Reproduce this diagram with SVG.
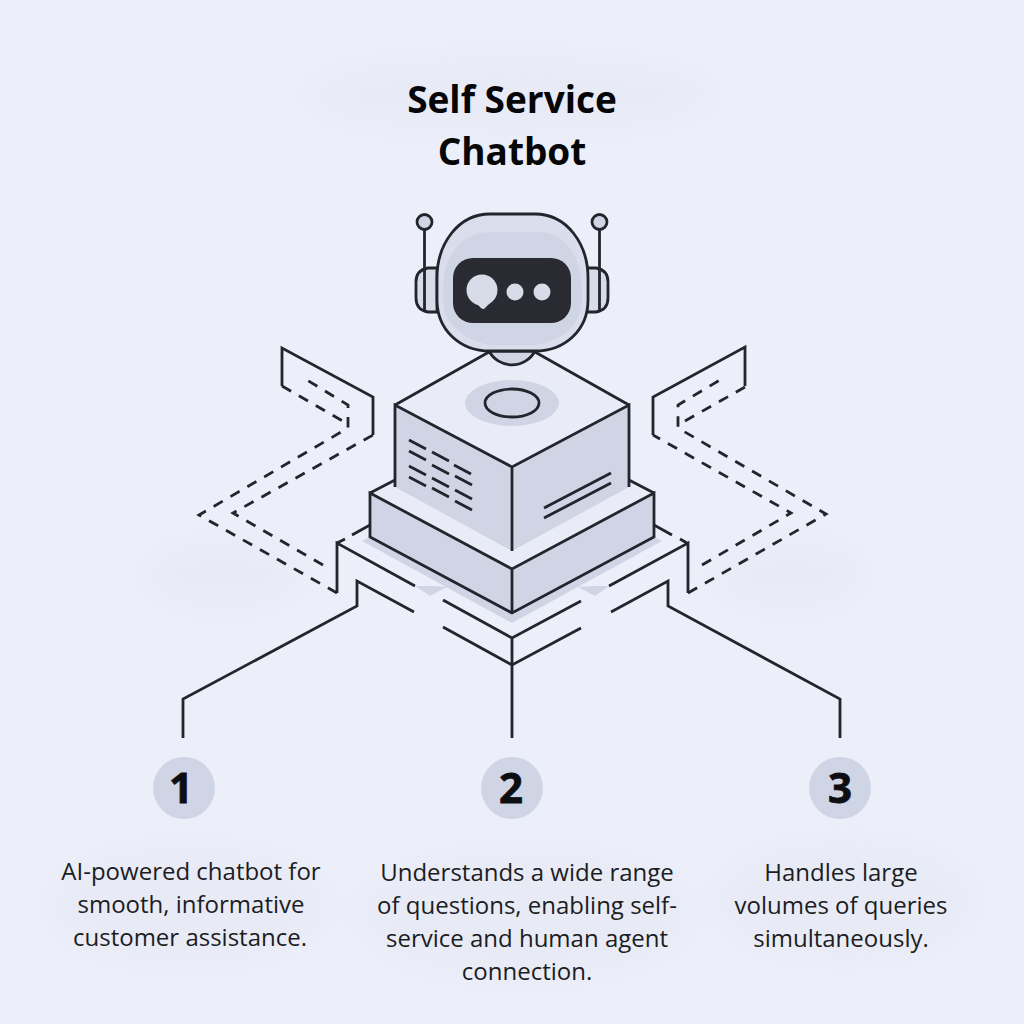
<svg xmlns="http://www.w3.org/2000/svg" width="1024" height="1024" viewBox="0 0 1024 1024">
<defs>
<filter id="blur" x="-30%" y="-30%" width="160%" height="160%"><feGaussianBlur stdDeviation="14"/></filter>
<style>
.ln{fill:none;stroke:#23252d;stroke-width:2.8;stroke-linejoin:miter;stroke-linecap:butt}
.da{stroke-dasharray:10.500 9}
.f{fill:#d0d5e5}
.t{fill:#e9ecf7}
.e{fill:#dadeec}
.b{fill:#e8ebf6}
.tx{font-family:"Open Sans","Noto Sans",sans-serif;font-size:24px;fill:#1c1d22;text-anchor:middle}
.ti{font-family:"Open Sans","Noto Sans",sans-serif;font-size:37px;font-weight:700;fill:#060608;text-anchor:middle}
.nu{font-family:"Open Sans","Noto Sans",sans-serif;font-size:42px;font-weight:700;fill:#0d0e12;stroke:#0d0e12;stroke-width:0.8;text-anchor:middle}
</style>
</defs>
<rect width="1024" height="1024" fill="#ecEff9"/>
<g filter="url(#blur)">
<ellipse class="b" cx="510" cy="95" rx="205" ry="40"/>
<ellipse class="b" cx="190" cy="905" rx="140" ry="60"/>
<ellipse class="b" cx="525" cy="915" rx="165" ry="65"/>
<ellipse class="b" cx="845" cy="900" rx="130" ry="60"/>
<ellipse class="b" cx="225" cy="575" rx="80" ry="35"/>
<ellipse class="b" cx="790" cy="575" rx="75" ry="35"/>
</g>
<g id="title"><text class="ti" x="512" y="113">Self Service</text><text class="ti" x="512" y="165">Chatbot</text></g>
<g id="connectors">
<path class="f" d="M362 541L512 623L662 541L654 537L512 613L370 537Z"/>
<path class="f" d="M415 586L431 586L447 587L430 596Z"/>
<path class="f" d="M609 586L593 586L578 587L595 596Z"/>
<path class="ln" d="M352 535L370 525M337 543L345 539M654 525L672 535M680 539L687 543"/>
<path class="ln" d="M337 593V543L415 586"/>
<path class="ln" d="M688 593V543L609 586"/>
<path class="ln" d="M414 612L357 581V606L183 699V738"/>
<path class="ln" d="M611 612L668 581V606L840 699V738"/>
<path class="ln" d="M443 600L512 638L581 601M443 627L512 665L581 628M512 638V738"/>
<path class="ln" d="M373 435V397L282 348V386M653 435V397L745 347V386"/>
<path class="ln da" d="M337 593L199 515L348 428V405L302 377"/>
<path class="ln da" d="M323 565L233 513L373 435"/>
<path class="ln da" d="M282 386L348 424"/>
<path class="ln da" d="M688 593L826 514L678 428V405L725 377"/>
<path class="ln da" d="M702 565L791 513L653 435"/>
<path class="ln da" d="M745 387L685 421"/>
</g>
<g id="platform">
<path class="t" d="M370 493L395 480V487L512 551L629 487V480L654 493L512 569Z"/>
<path class="ln" d="M370 493L395 480M654 493L629 480"/>
<path class="t" d="M395 405L489 352H535L629 405L512 467Z"/>
<ellipse class="f" cx="512" cy="403" rx="47" ry="23"/>
<ellipse class="ln" style="fill:#d0d5e5" cx="512" cy="403" rx="27" ry="14"/>
<path class="f" d="M395 405L512 467V551L395 487Z"/>
<path class="f" d="M629 405L512 467V551L629 487Z"/>
<path class="ln" d="M395 487V405L512 467L629 405V487M512 467V551M395 405L489 352M629 405L535 352"/>
<path class="ln" d="M409 440L426 449M409 451L426 460M409 466L426 475M409 477L426 486M432 452L449 461M432 465L449 474M432 478L449 487M432 488L449 497M454 465L471 474M455 476L472 485M455 490L472 499M455 501L472 510"/>
<path class="ln" d="M544 508L611 473M544 518L611 483"/>
<path class="f" d="M370 493L512 569V613L370 537Z"/>
<path class="f" d="M654 493L512 569V613L654 537Z"/>
<path class="ln" d="M370 493L512 569L654 493V537L512 613L370 537ZM512 569V613"/>
</g>
<g id="robot">
<path class="ln" style="fill:#d0d5e5" d="M489 351A26 26 0 0 0 535 351Z"/>
<path class="ln" style="fill:#d8dcea" d="M437 268H428Q416 270 416 282V298Q416 310 428 312H437Z"/>
<path class="ln" style="fill:#d8dcea" d="M587 268H596Q608 270 608 282V298Q608 310 596 312H587Z"/>
<path class="ln" d="M424.500 229V312M599.500 229V312"/>
<circle class="ln" style="fill:#d0d5e5" cx="424.500" cy="222" r="7.500"/>
<circle class="ln" style="fill:#d0d5e5" cx="599.500" cy="222" r="7.500"/>
<path class="e" d="M490 214H535C567 214 588 244 588 278V300C588 330 565 351 535 351H490C460 351 437 330 437 300V278C437 244 458 214 490 214Z"/>
<path class="f" d="M443 290C443 255 462 232 490 232H540C565 232 582 258 582 290V300C582 322 565 340 535 345H490C462 340 443 322 443 300Z"/>
<path class="ln" d="M490 214H535C567 214 588 244 588 278V300C588 330 565 351 535 351H490C460 351 437 330 437 300V278C437 244 458 214 490 214Z"/>
<rect x="453" y="258" width="118" height="65" rx="20" fill="#2a2b32"/>
<circle cx="482" cy="290" r="15.500" fill="#d8dce9"/>
<path fill="#d8dce9" d="M476 303L490 303L484 309Q482 309 481 308Z"/>
<circle cx="515" cy="292" r="8.500" fill="#d8dce9"/>
<circle cx="542" cy="292" r="8.500" fill="#d8dce9"/>
</g>
<g id="step1"><circle class="f" cx="184" cy="788" r="31"/><text class="nu" x="181" y="803">1</text>
<text class="tx" x="191" y="880">AI-powered chatbot for</text><text class="tx" x="191" y="913">smooth, informative</text><text class="tx" x="190" y="946">customer assistance.</text></g>
<g id="step2"><circle class="f" cx="512" cy="788" r="31"/><text class="nu" x="511" y="803">2</text>
<text class="tx" x="527" y="881">Understands a wide range</text><text class="tx" x="527" y="914">of questions, enabling self-</text><text class="tx" x="527" y="947">service and human agent</text><text class="tx" x="527" y="980">connection.</text></g>
<g id="step3"><circle class="f" cx="840" cy="788" r="31"/><text class="nu" x="840" y="803">3</text>
<text class="tx" x="841" y="881">Handles large</text><text class="tx" x="841" y="914">volumes of queries</text><text class="tx" x="841" y="947">simultaneously.</text></g>
</svg>
